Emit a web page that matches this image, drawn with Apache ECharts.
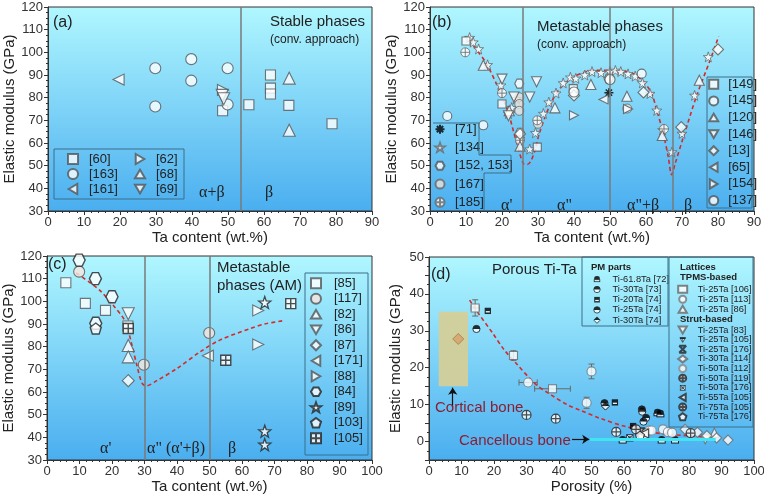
<!DOCTYPE html>
<html>
<head>
<meta charset="utf-8">
<script src="https://cdn.jsdelivr.net/npm/echarts@6/dist/echarts.min.js"></script>
<style>
html, body { margin: 0; padding: 0; background: #fff; }
#main { width: 764px; height: 502px; }
</style>
</head>
<body>
<div id="main"></div>
<script>
// ---- data ----
// (a) stable phases
var a60 = [[48.5, 74.2], [55.8, 76.9], [61.8, 90], [61.8, 84.2], [61.8, 81.6], [66.9, 76.6], [78.9, 68.5]];
var a163 = [[29.8, 93], [29.8, 76.1], [39.8, 97], [39.8, 87.5], [49.9, 93], [49.9, 77]];
var a161 = [[19.6, 88]];
var a62 = [[48.6, 83.4]];
var a68 = [[67, 88.6], [67, 65.6]];
var a69 = [[48.4, 81], [48.8, 79.5]];
var aBoundary = [53.5];

// (b) metastable phases, conventional
var b71 = [[49.7, 82.2]];
var b134 = [[11, 106.5], [12, 104.5], [13.5, 101.5], [16, 94.5], [19.7, 85.5], [21.8, 73], [22.7, 75.6], [24, 79.5],
  [25, 62], [27.7, 57.3], [29.3, 64.5], [31.5, 73], [33, 78], [35, 82], [37, 86.5], [39, 89], [40.5, 88.5], [43, 90],
  [45, 91.5], [47.5, 91], [50, 91.5], [51.5, 92], [53, 91.5], [55, 90.5], [57, 89.5], [59, 86.5], [61.1, 81.8],
  [63, 74.4], [64.6, 65.8], [67.2, 56], [70, 64.2], [73.5, 81], [77.3, 98]];
var b152 = [[24.8, 86.2], [25, 64.5], [49.6, 88.4]];
var b167 = [[24.8, 80.2], [24.8, 77.2], [24.8, 74.2], [54.8, 75.2], [30, 68.5]];
var b185 = [[9.8, 100], [20, 82], [25, 61.2], [29.8, 70], [65, 66.2]];
var b149 = [[10, 105], [20, 77.2], [29.8, 58.2], [39.8, 84]];
var b145 = [[4.8, 71.9], [14.8, 67.8], [58.8, 90.6]];
var b120 = [[14.8, 94.3], [22, 74.2], [25, 58.6], [34.7, 75.5], [44.7, 85.8], [54.7, 80.6], [64.5, 63.3], [74.8, 87.7]];
var b146 = [[20, 88.2], [23.3, 80.3], [27.7, 80.3], [29.6, 87], [21.8, 72]];
var b13 = [[25, 64], [40, 81], [59.3, 82.3], [69.8, 67], [80, 101.3]];
var b65 = [[48.2, 79.2]];
var b154 = [[40, 72.2], [55, 75]];
var b137 = [[40, 82.5], [50, 88]];
var bFit = [[10.9, 105.3], [13, 101], [15.7, 95], [19.9, 81], [21.7, 73.7], [24, 60.5], [25.9, 51], [27, 50.5], [28, 52],
  [29.1, 56.5], [30.5, 64.9], [33.3, 76.6], [36.1, 84], [40.7, 89.9], [46.3, 92.1], [50, 92.1], [56.5, 90.6],
  [61.1, 83.3], [63, 74.4], [64.8, 64.1], [66.2, 53.8], [67.1, 46], [68.1, 50.9], [70.4, 62.7], [74.1, 81],
  [77.8, 96.5], [80.2, 107.1]];
var bBoundary = [25.7, 50, 67.5];

// (c) metastable phases, AM
var c85 = [[5.8, 108.2], [11.8, 99.1], [18, 96], [24.9, 89.1]];
var c117 = [[9.9, 113.1], [29.8, 72], [49.9, 86]];
var c82 = [[25, 80.5], [25, 75.5]];
var c86 = [[25, 94.5]];
var c87 = [[25, 65]];
var c171 = [[49.5, 76]];
var c88 = [[65, 96], [65, 81]];
var c84 = [[9.9, 118.2], [14.9, 110], [20, 102], [15, 90.3]];
var c89 = [[67, 99.5], [67, 42.7], [67, 36.8]];
var c103 = [[15, 88]];
var c105 = [[25, 88], [55, 74], [75, 99]];
var cFit = [[9, 112.5], [13, 108.5], [16.5, 104.5], [20.5, 98], [24, 91.3], [26.2, 80.3], [27.7, 71.5], [29.2, 64],
  [30.5, 62.7], [33.8, 65], [40, 70.4], [47.2, 77.8], [53.3, 83], [62.6, 88], [67, 90], [73, 91.5]];
var cBoundary = [30, 50];

// (d) porous Ti-Ta
var d72 = [[70.3, 7.8], [71.2, 7.5], [59.6, 0.4], [71.6, 0.4], [75.7, 0.4]];
var d73 = [[14.6, 30.5]];
var d20_74 = [[18.1, 35.4], [57.2, 10.6], [62.8, 4.2]];
var d25_74 = [[65.5, 8.7], [65.6, 8.1], [66.8, 6.4], [66, 5.4], [54, 10.4]];
var d30_74 = [[54.3, 9.6], [65, 1.8]];
var d106 = [[14.2, 36.2], [26, 23.3], [38, 14.3]];
var d113 = [[30.5, 16], [48.5, 10.5], [50, 19], [67.8, 3], [72, 3.3], [73.5, 2.6], [74.8, 2.4]];
var d86 = [[87.8, 2.4]];
var d83 = [[85, 0.6], [66, 2.2]];
var d25_105 = [[63.2, 3.6]];
var d25_176 = [[65.2, 2.6]];
var d114 = [[78.8, 3.3], [82.6, 2.5], [85.5, 1.6], [88.5, 1], [92, 0.4]];
var d112 = [[66, 1.5], [68.5, 3]];
var d119 = [[30, 7.2], [39, 6.2], [57.6, 2.6], [80.5, 2.3]];
var d50_176 = [[61.8, 1]];
var d55_105 = [[66.2, 2.2]];
var d75_105 = [[63.7, 3.3]];
var d75_176 = [[64.9, 1.6]];
// [x, y, xErr, yErr]
var dErr = [[14.2, 36.2, 1.2, 2.2], [26, 23.3, 0, 1.3], [38, 14.3, 5.5, 0], [30.5, 16, 2.8, 0], [48.5, 10.5, 0, 1.5], [50, 19, 0, 2]];
var dFit = [[12.5, 38.3], [15, 35], [19.8, 29.1], [23, 25], [27, 21], [32.6, 15.7], [37.8, 12.5], [42.9, 9.8],
  [46.5, 8.5], [52.6, 6.3], [60.8, 4], [71, 2.2], [83.3, 1.35], [88.2, 0.8]];
var cortical = [[9, 27.8]];
var corticalBox = [[3, 15], [12, 35.2]];
var cancellous = [[49.5, 0.6], [88.2, 0.6]];

// ---- chart ----
var dom = document.getElementById('main');
var myChart = echarts.init(dom, null, { renderer: 'canvas' });
var FONT = 'Liberation Sans, Arial, sans-serif';
var SERIF = 'Liberation Serif, Times New Roman, serif';

var star = 'path://M0,-10L2.35,-3.24L9.51,-3.09L3.8,1.24L5.88,8.09L0,4L-5.88,8.09L-3.8,1.24L-9.51,-3.09L-2.35,-3.24Z';
var hexagon = 'path://M-10,0L-5,-8.66L5,-8.66L10,0L5,8.66L-5,8.66Z';
var pentagon = 'path://M0,-10L9.51,-3.09L5.88,8.09L-5.88,8.09L-9.51,-3.09Z';
var asterisk = 'path://M-10,0L10,0M0,-10L0,10M-7,-7L7,7M-7,7L7,-7';
var crossCircle = 'path://M10,0A10,10,0,1,1,-10,0A10,10,0,1,1,10,0ZM-10,0L10,0M0,-10L0,10';
var crossSquare = 'path://M-10,-10L10,-10L10,10L-10,10ZM-10,0L10,0M0,-10L0,10';
var xBox = 'path://M-10,-10L10,10M10,-10L-10,10M-10,-10L10,-10M-10,10L10,10';
var triUp = 'path://M0,0L10,17L-10,17Z';
var triDown = 'path://M-10,0L10,0L0,17Z';
var triLeft = 'path://M0,10L17,0L17,20Z';
var triRight = 'path://M0,0L17,10L0,20Z';

function svg(inner) {
  return 'image://data:image/svg+xml;charset=utf-8,' + encodeURIComponent(
    '<svg xmlns="http://www.w3.org/2000/svg" width="20" height="20" viewBox="0 0 20 20">' + inner + '</svg>');
}
var halfCircle = svg('<circle cx="10" cy="10" r="8" fill="#fff" stroke="#000" stroke-width="2"/><path d="M2,10A8,8 0 0 1 18,10Z" fill="#000"/>');
var hat = svg('<path d="M3,11L3,8A7,6 0 0 1 17,8L17,11Z" fill="#000"/><rect x="3" y="11" width="14" height="5" fill="#fff" stroke="#000" stroke-width="2"/>');
var blackSquare = svg('<rect x="3" y="3" width="14" height="14" fill="#000"/><rect x="5.5" y="10.5" width="9" height="3" fill="#fff"/>');
var halfDiamond = svg('<path d="M10,2L18,10L10,18L2,10Z" fill="#fff" stroke="#000" stroke-width="2"/><path d="M10,2L18,10L2,10Z" fill="#000"/>');
var triPlus = svg('<path d="M2,4L18,4L10,18Z" fill="#fff" stroke="#000" stroke-width="2"/><path d="M2,4L18,4L18,8L2,8Z" fill="#000"/><path d="M10,4L10,16" stroke="#000" stroke-width="2"/>');
var boxX = svg('<rect x="3" y="3" width="14" height="14" fill="#fff" stroke="#000" stroke-width="2"/><path d="M3,3L17,17M17,3L3,17" stroke="#000" stroke-width="2"/><circle cx="10" cy="10" r="3" fill="none" stroke="#000" stroke-width="1.5"/>');

var bg = new echarts.graphic.LinearGradient(0, 0, 0, 1, [
  { offset: 0, color: '#b0f7ff' }, { offset: 1, color: '#4aaeef' }
]);

function grid(left, top, right, bottom) {
  return { left: left, top: top, right: right, bottom: bottom, show: true, backgroundColor: bg,
    borderColor: '#333', borderWidth: 1, outerBoundsMode: 'none', containLabel: false };
}
function axisBase(gi, min, max, interval, name, gap, split) {
  return {
    type: 'value', gridIndex: gi, min: min, max: max, interval: interval,
    name: name, nameLocation: 'middle', nameGap: gap,
    nameTextStyle: { fontSize: 15, color: '#222', fontFamily: FONT },
    axisLine: { show: true, onZero: false, lineStyle: { color: '#333', width: 1 } },
    axisTick: { show: true, inside: false, length: 4, lineStyle: { color: '#333' } },
    minorTick: { show: true, splitNumber: split, length: 2, lineStyle: { color: '#333' } },
    axisLabel: { fontSize: 13, color: '#333', fontFamily: FONT, margin: 5 },
    splitLine: { show: false }
  };
}

var WHITE = { color: '#fff', borderColor: '#555', borderWidth: 1.1 };
function sc(name, data, gi, symbol, size, style) {
  return {
    name: name, type: 'scatter', xAxisIndex: gi, yAxisIndex: gi, data: data,
    symbol: symbol, symbolSize: size, itemStyle: style || WHITE, z: 3
  };
}
function fit(data, gi, bounds, smooth) {
  var s = {
    type: 'line', xAxisIndex: gi, yAxisIndex: gi, data: data, smooth: smooth, showSymbol: false, z: 2,
    lineStyle: { color: '#d42a2a', width: 1.6, type: [4, 3] }, silent: true
  };
  if (bounds) {
    s.markLine = {
      silent: true, symbol: 'none', label: { show: false },
      lineStyle: { color: '#7a7a7a', width: 1.5, type: 'solid' },
      data: bounds.map(function (v) { return { xAxis: v }; })
    };
  }
  return s;
}
var THIN = { color: '#fff', borderColor: '#666', borderWidth: 1 };
var DARK = { color: '#fff', borderColor: '#222', borderWidth: 1.3 };

var series = [
  // (a)
  sc('[60]', a60, 0, 'rect', 10),
  sc('[163]', a163, 0, 'circle', 11),
  sc('[161]', a161, 0, triLeft, 11),
  sc('[62]', a62, 0, triRight, 11),
  sc('[68]', a68, 0, triUp, 12),
  sc('[69]', a69, 0, triDown, 12),
  {
    type: 'line', xAxisIndex: 0, yAxisIndex: 0, data: [], silent: true,
    markLine: { silent: true, symbol: 'none', label: { show: false },
      lineStyle: { color: '#7a7a7a', width: 1.5, type: 'solid' },
      data: aBoundary.map(function (v) { return { xAxis: v }; }) }
  },
  // (b)
  fit(bFit, 1, bBoundary, 0.3),
  sc('[71]', b71, 1, asterisk, 9, { color: '#000', borderColor: '#000', borderWidth: 1.5 }),
  sc('[134]', b134, 1, star, 10, THIN),
  sc('[152, 153]', b152, 1, hexagon, 9),
  sc('[167]', b167, 1, 'circle', 9, { color: '#e8e2dc', borderColor: '#666', borderWidth: 1 }),
  sc('[185]', b185, 1, crossCircle, 9, THIN),
  sc('[149]', b149, 1, 'rect', 8),
  sc('[145]', b145, 1, 'circle', 9),
  sc('[120]', b120, 1, triUp, 10),
  sc('[146]', b146, 1, triDown, 10),
  sc('[13]', b13, 1, 'diamond', 11),
  sc('[65]', b65, 1, triLeft, 9),
  sc('[154]', b154, 1, triRight, 9),
  sc('[137]', b137, 1, 'circle', 10),
  // (c)
  fit(cFit, 2, cBoundary, 0.3),
  sc('[85]', c85, 2, 'rect', 10),
  sc('[117]', c117, 2, 'circle', 11, { color: '#f8e6de', borderColor: '#555', borderWidth: 1.1 }),
  sc('[82]', c82, 2, triUp, 12),
  sc('[86]', c86, 2, triDown, 12),
  sc('[87]', c87, 2, 'diamond', 12),
  sc('[171]', c171, 2, triLeft, 11),
  sc('[88]', c88, 2, triRight, 11),
  sc('[84]', c84, 2, hexagon, 12, { color: '#fff', borderColor: '#222', borderWidth: 1.4 }),
  sc('[89]', c89, 2, star, 12, DARK),
  sc('[103]', c103, 2, pentagon, 11, { color: '#fff', borderColor: '#222', borderWidth: 1.4 }),
  sc('[105]', c105, 2, crossSquare, 10, { color: '#fff', borderColor: '#222', borderWidth: 1.4 }),
  // (d)
  {
    name: 'cortical', type: 'scatter', xAxisIndex: 3, yAxisIndex: 3, data: cortical, symbol: 'diamond', symbolSize: 11,
    itemStyle: { color: '#d6a168', borderColor: '#a87a48', borderWidth: 1 }, z: 3, silent: true,
    markArea: { silent: true, itemStyle: { color: 'rgba(214,206,150,0.92)' },
      data: [[{ coord: corticalBox[0] }, { coord: corticalBox[1] }]] },
    markLine: {
      silent: true, symbol: ['none', 'arrow'], symbolSize: 7, label: { show: false },
      lineStyle: { color: '#111', width: 1.2, type: 'solid' },
      data: [
        [{ coord: cancellous[0], symbol: 'none', lineStyle: { color: '#3fe6f2', width: 3, type: 'solid' } },
         { coord: cancellous[1], symbol: 'none' }],
        [{ coord: [44, 0.6] }, { coord: [49.3, 0.6] }],
        [{ coord: [7.3, 9.3] }, { coord: [7.3, 14.6] }]
      ]
    }
  },
  fit(dFit, 3, null, 0.3),
  {
    type: 'custom', xAxisIndex: 3, yAxisIndex: 3, data: dErr, silent: true, z: 2,
    renderItem: function (params, api) {
      var x = api.value(0), y = api.value(1), ex = api.value(2), ey = api.value(3);
      var st = { stroke: '#6a6a6a', lineWidth: 1 };
      var ch = [];
      function seg(p, q) { ch.push({ type: 'line', shape: { x1: p[0], y1: p[1], x2: q[0], y2: q[1] }, style: st }); }
      if (ex > 0) {
        var l = api.coord([x - ex, y]), r = api.coord([x + ex, y]);
        seg(l, r); seg([l[0], l[1] - 3], [l[0], l[1] + 3]); seg([r[0], r[1] - 3], [r[0], r[1] + 3]);
      }
      if (ey > 0) {
        var t = api.coord([x, y + ey]), b = api.coord([x, y - ey]);
        seg(t, b); seg([t[0] - 3, t[1]], [t[0] + 3, t[1]]); seg([b[0] - 3, b[1]], [b[0] + 3, b[1]]);
      }
      return { type: 'group', children: ch };
    }
  },
  sc('Ti-61.8Ta [72]', d72, 3, hat, 10, {}),
  sc('Ti-30Ta [73]', d73, 3, halfCircle, 9, {}),
  sc('Ti-20Ta [74]', d20_74, 3, blackSquare, 9, {}),
  sc('Ti-25Ta [74]', d25_74, 3, halfCircle, 9, {}),
  sc('Ti-30Ta [74]', d30_74, 3, halfDiamond, 10, {}),
  sc('Ti-25Ta [106]', d106, 3, 'rect', 8, { color: '#fff', borderColor: '#666', borderWidth: 1.1 }),
  sc('Ti-25Ta [113]', d113, 3, 'circle', 9, { color: '#fff', borderColor: '#777', borderWidth: 1.1 }),
  sc('Ti-25Ta [86]', d86, 3, triUp, 9, { color: '#fff', borderColor: '#666', borderWidth: 1.1 }),
  sc('Ti-25Ta [83]', d83, 3, triDown, 9, { color: '#fff', borderColor: '#666', borderWidth: 1.1 }),
  sc('Ti-25Ta [105]', d25_105, 3, triPlus, 9, {}),
  sc('Ti-25Ta [176]', d25_176, 3, xBox, 8, { color: 'rgba(0,0,0,0)', borderColor: '#222', borderWidth: 1.4 }),
  sc('Ti-30Ta [114]', d114, 3, 'diamond', 10, { color: '#fff', borderColor: '#666', borderWidth: 1.1 }),
  sc('Ti-50Ta [112]', d112, 3, 'circle', 9, { color: '#fff', borderColor: '#888', borderWidth: 1.1 }),
  sc('Ti-50Ta [119]', d119, 3, crossCircle, 9, { color: '#fff', borderColor: '#222', borderWidth: 1.2 }),
  sc('Ti-50Ta [176]', d50_176, 3, boxX, 9, {}),
  sc('Ti-55Ta [105]', d55_105, 3, triLeft, 9, { color: '#fff', borderColor: '#222', borderWidth: 1.2 }),
  sc('Ti-75Ta [105]', d75_105, 3, crossCircle, 9, { color: '#fff', borderColor: '#222', borderWidth: 1.2 }),
  sc('Ti-75Ta [176]', d75_176, 3, pentagon, 9, { color: '#fff', borderColor: '#222', borderWidth: 1.2 })
];

function lg(names, left, top, rowH, fs, iw, ih, pad) {
  return {
    data: names, orient: 'vertical', left: left, top: top, itemGap: 0, padding: 0,
    itemWidth: iw, itemHeight: ih, selectedMode: false,
    textStyle: { fontSize: fs, color: '#222', fontFamily: FONT, lineHeight: rowH, padding: [0, 0, 0, pad] }
  };
}
var legends = [
  lg(['[60]', '[163]', '[161]'], 67, 151.5, 15, 13, 10, 10, 6),
  lg(['[62]', '[68]', '[69]'], 134, 151.5, 15, 13, 10, 10, 6),
  lg(['[71]', '[134]', '[152, 153]', '[167]', '[185]'], 434.5, 120, 18.3, 13, 9, 9, 5.5),
  lg(['[149]', '[145]', '[120]', '[146]', '[13]', '[65]', '[154]', '[137]'], 708.2, 76, 16.6, 13, 9, 9, 5),
  lg(['[85]', '[117]', '[82]', '[86]', '[87]', '[171]', '[88]', '[84]', '[89]', '[103]', '[105]'], 310, 275.5, 15.5, 13, 10, 10, 8),
  lg(['Ti-61.8Ta [72]', 'Ti-30Ta [73]', 'Ti-20Ta [74]', 'Ti-25Ta [74]', 'Ti-30Ta [74]'], 592.5, 274.2, 10.2, 9.3, 9, 8, 6),
  lg(['Ti-25Ta [106]', 'Ti-25Ta [113]', 'Ti-25Ta [86]'], 677.2, 284.3, 10, 9.3, 9, 7, 5.5),
  lg(['Ti-25Ta [83]', 'Ti-25Ta [105]', 'Ti-25Ta [176]', 'Ti-30Ta [114]', 'Ti-50Ta [112]', 'Ti-50Ta [119]',
      'Ti-50Ta [176]', 'Ti-55Ta [105]', 'Ti-75Ta [105]', 'Ti-75Ta [176]'], 677.2, 325.2, 9.63, 9.3, 9, 7, 5.5)
];

function txt(s, left, top, size, opts) {
  opts = opts || {};
  return { type: 'text', left: left, top: top, z: 50, silent: true,
    style: { text: s, fontSize: size, fontFamily: opts.family || FONT, fontWeight: opts.weight || 'normal',
      fill: opts.color || '#222' } };
}
function box(x, y, w, h) {
  return { type: 'rect', z: 40, silent: true, shape: { x: x, y: y, width: w, height: h },
    style: { fill: 'none', stroke: '#3a6f8a', lineWidth: 1 } };
}
var BONE = '#8a1f33';
var graphics = [
  box(54, 149, 130, 50),
  { type: 'polyline', z: 40, silent: true,
    shape: { points: [[433, 123], [479, 123], [479, 155], [511, 155], [511, 173], [484, 173], [484, 210]] },
    style: { fill: 'none', stroke: '#3a6f8a', lineWidth: 1 } },
  box(707, 77, 45, 131),
  box(305, 273, 63, 182),
  box(582, 257, 86, 69),
  box(669, 257, 84, 170),
  txt('(a)', 53, 15, 16),
  txt('Stable phases', 270, 14, 15),
  txt('(conv. approach)', 270, 34, 12),
  txt('α+β', 199, 185, 16, { family: SERIF }),
  txt('β', 265, 185, 16, { family: SERIF }),
  txt('(b)', 432, 15, 16),
  txt('Metastable phases', 537, 19, 15),
  txt('(conv. approach)', 537, 39, 12),
  txt('α\'', 501, 198, 16, { family: SERIF }),
  txt('α"', 557, 198, 16, { family: SERIF }),
  txt('α"+β', 627, 198, 16, { family: SERIF }),
  txt('β', 684, 198, 16, { family: SERIF }),
  txt('(c)', 48, 257, 16),
  txt('Metastable', 217, 260, 15),
  txt('phases (AM)', 217, 278, 15),
  txt('α\'', 100, 441, 16, { family: SERIF }),
  txt('α" (α\'+β)', 147, 441, 16, { family: SERIF }),
  txt('β', 228, 441, 16, { family: SERIF }),
  txt('(d)', 431, 267, 16),
  txt('Porous Ti-Ta', 492, 262, 15),
  txt('PM parts', 591, 262, 9.5, { weight: 'bold' }),
  txt('Lattices', 680, 262, 9.5, { weight: 'bold' }),
  txt('TPMS-based', 680, 272, 9.5, { weight: 'bold' }),
  txt('Strut-based', 680, 314, 9.5, { weight: 'bold' }),
  txt('Cortical bone', 435, 400, 15, { color: BONE }),
  txt('Cancellous bone', 459, 433, 15, { color: BONE })
];

var option = {
  animation: false,
  backgroundColor: '#fff',
  textStyle: { fontFamily: FONT },
  grid: [grid(48, 7, 392, 291), grid(430, 7, 10, 291), grid(47, 256, 392, 42), grid(429, 257, 10, 42)],
  xAxis: [
    axisBase(0, 0, 90, 10, 'Ta content (wt.%)', 17, 5),
    axisBase(1, 0, 90, 10, 'Ta content (wt.%)', 17, 5),
    axisBase(2, 0, 100, 10, 'Ta content (wt.%)', 19, 5),
    axisBase(3, 0, 100, 10, 'Porosity (%)', 19, 5)
  ],
  yAxis: [
    axisBase(0, 30, 120, 10, 'Elastic modulus (GPa)', 31, 4),
    axisBase(1, 30, 120, 10, 'Elastic modulus (GPa)', 31, 4),
    axisBase(2, 30, 120, 10, 'Elastic modulus (GPa)', 31, 4),
    (function () {
      var y = axisBase(3, -5, 50, 5, 'Elastic modulus (GPa)', 26, 2);
      y.axisLabel.formatter = function (v) { return v % 10 === 0 ? String(v) : ''; };
      return y;
    })()
  ],
  legend: legends,
  graphic: graphics,
  series: series
};
myChart.setOption(option, true);
</script>
</body>
</html>
